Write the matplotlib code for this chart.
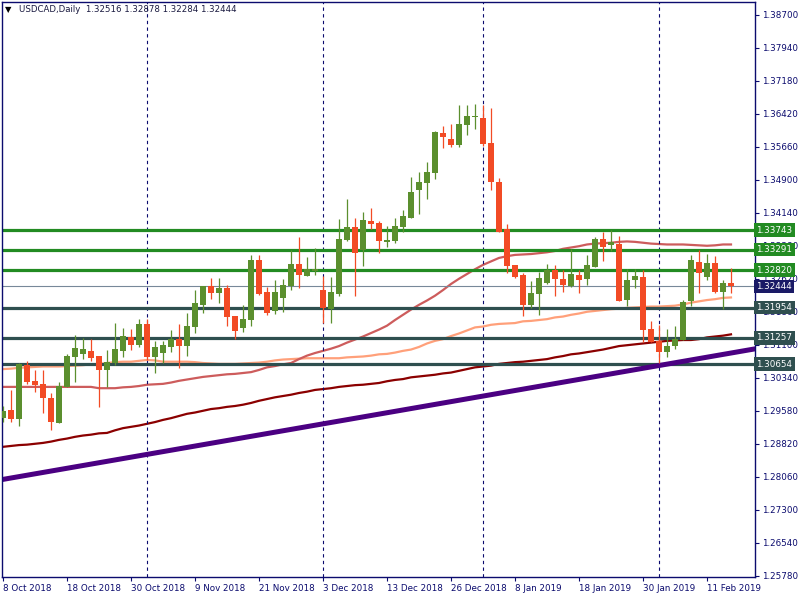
import numpy as np
import pandas as pd
import matplotlib
matplotlib.use('Agg')
import matplotlib.pyplot as plt
from matplotlib.transforms import blended_transform_factory

# trading days on the chart (no bars on 25 Dec and 1 Jan)
dates = pd.bdate_range('2018-10-08', '2019-02-14')
dates = dates[~dates.isin(pd.to_datetime(['2018-12-25', '2019-01-01']))]

opens = [1.2941, 1.2960, 1.2939, 1.3064, 1.3026, 1.3020, 1.2987, 1.2929, 1.3013, 1.3082,
         1.3089, 1.3096, 1.3084, 1.3052, 1.3068, 1.3096, 1.3128, 1.3109, 1.3158, 1.3082,
         1.3091, 1.3105, 1.3123, 1.3107, 1.3151, 1.3201, 1.3245, 1.3229, 1.3240, 1.3176,
         1.3149, 1.3167, 1.3305, 1.3231, 1.3187, 1.3217, 1.3245, 1.3296, 1.3268, 1.3280,
         1.3236, 1.3193, 1.3226, 1.3351, 1.3381, 1.3328, 1.3395, 1.3390, 1.3346, 1.3349,
         1.3381, 1.3402, 1.3466, 1.3483, 1.3506, 1.3598, 1.3584, 1.3570, 1.3616, 1.3634,
         1.3632, 1.3574, 1.3485, 1.3377, 1.3294, 1.3270, 1.3201, 1.3227, 1.3252, 1.3282,
         1.3261, 1.3245, 1.3270, 1.3261, 1.3289, 1.3354, 1.3340, 1.3342, 1.3213, 1.3259,
         1.3266, 1.3146, 1.3119, 1.3093, 1.3107, 1.3121, 1.3211, 1.3300, 1.3266, 1.3298,
         1.3231, 1.32516]
highs = [1.2969, 1.3006, 1.3068, 1.3073, 1.3052, 1.3052, 1.2999, 1.3024, 1.3089, 1.3132,
         1.3126, 1.3123, 1.3084, 1.3098, 1.3160, 1.3149, 1.3146, 1.3169, 1.3169, 1.3119,
         1.3119, 1.3144, 1.3158, 1.3183, 1.3236, 1.3245, 1.3263, 1.3263, 1.3247, 1.3176,
         1.3201, 1.3316, 1.3316, 1.3243, 1.3259, 1.3261, 1.3328, 1.3358, 1.3312, 1.3333,
         1.3268, 1.3266, 1.3400, 1.3446, 1.3402, 1.3415, 1.3424, 1.3395, 1.3384, 1.3402,
         1.3420, 1.3496, 1.3508, 1.3531, 1.3602, 1.3614, 1.3618, 1.3662, 1.3662, 1.3664,
         1.3662, 1.3655, 1.3494, 1.3388, 1.3294, 1.3275, 1.3256, 1.3277, 1.3296, 1.3294,
         1.3282, 1.3330, 1.3282, 1.3316, 1.3358, 1.3370, 1.3374, 1.3360, 1.3284, 1.3284,
         1.3282, 1.3165, 1.3155, 1.3146, 1.3153, 1.3213, 1.3316, 1.3328, 1.3318, 1.3314,
         1.3259, 1.32878]
lows = [1.2932, 1.2932, 1.2923, 1.3020, 1.3001, 1.2953, 1.2914, 1.2929, 1.3013, 1.3024,
        1.3078, 1.3073, 1.2967, 1.3013, 1.3063, 1.3082, 1.3098, 1.3105, 1.3075, 1.3045,
        1.3068, 1.3093, 1.3057, 1.3084, 1.3137, 1.3183, 1.3215, 1.3206, 1.3153, 1.3123,
        1.3140, 1.3153, 1.3224, 1.3178, 1.3181, 1.3185, 1.3236, 1.3240, 1.3268, 1.3270,
        1.3160, 1.3160, 1.3222, 1.3349, 1.3222, 1.3291, 1.3377, 1.3321, 1.3335, 1.3344,
        1.3370, 1.3402, 1.3411, 1.3446, 1.3492, 1.3563, 1.3565, 1.3565, 1.3593, 1.3607,
        1.3567, 1.3466, 1.3370, 1.3275, 1.3264, 1.3176, 1.3194, 1.3178, 1.3250, 1.3222,
        1.3231, 1.3243, 1.3229, 1.3247, 1.3289, 1.3303, 1.3326, 1.3211, 1.3199, 1.3240,
        1.3116, 1.3116, 1.3068, 1.3082, 1.3100, 1.3121, 1.3199, 1.3229, 1.3259, 1.3229,
        1.3192, 1.32284]
closes = [1.2958, 1.2939, 1.3066, 1.3024, 1.3017, 1.2987, 1.2932, 1.3015, 1.3084, 1.3102,
          1.3100, 1.3080, 1.3052, 1.3070, 1.3100, 1.3130, 1.3109, 1.3158, 1.3082, 1.3105,
          1.3109, 1.3123, 1.3107, 1.3153, 1.3206, 1.3245, 1.3229, 1.3240, 1.3174, 1.3142,
          1.3169, 1.3305, 1.3227, 1.3183, 1.3231, 1.3247, 1.3296, 1.3270, 1.3284, 1.3284,
          1.3195, 1.3231, 1.3354, 1.3381, 1.3321, 1.3397, 1.3388, 1.3349, 1.3351, 1.3384,
          1.3406, 1.3462, 1.3485, 1.3508, 1.3600, 1.3588, 1.3570, 1.3618, 1.3637, 1.3635,
          1.3572, 1.3485, 1.3370, 1.3291, 1.3266, 1.3201, 1.3229, 1.3263, 1.3282, 1.3261,
          1.3247, 1.3273, 1.3259, 1.3294, 1.3354, 1.3335, 1.3347, 1.3211, 1.3259, 1.3268,
          1.3144, 1.3116, 1.3093, 1.3107, 1.3123, 1.3208, 1.3305, 1.3275, 1.3298, 1.3231,
          1.3252, 1.32444]

# moving averages
ma_fast = [1.3013] * 12 + [1.3010] * 3 + [
    1.3012, 1.3013, 1.3015, 1.3018, 1.3019, 1.3020, 1.3023, 1.3027, 1.3030, 1.3033,
    1.3036, 1.3038, 1.3040, 1.3042, 1.3043, 1.3045, 1.3047, 1.3052, 1.3058, 1.3061,
    1.3065, 1.3068, 1.3077, 1.3085, 1.3091, 1.3096, 1.3101, 1.3107, 1.3115, 1.3122,
    1.3129, 1.3137, 1.3145, 1.3154, 1.3167, 1.3179, 1.3191, 1.3202, 1.3212, 1.3223,
    1.3236, 1.3250, 1.3262, 1.3273, 1.3284, 1.3294, 1.3302, 1.3310, 1.3314, 1.3317,
    1.3318, 1.3319, 1.3321, 1.3323, 1.3326, 1.3331, 1.3334, 1.3337, 1.3341, 1.3343,
    1.3344, 1.3345, 1.3347, 1.3348, 1.3347, 1.3345, 1.3343, 1.3342, 1.3341, 1.3341,
    1.3341, 1.3340, 1.3339, 1.3338, 1.3339, 1.3341, 1.3341]
ma_mid = [1.3054, 1.3055, 1.3057, 1.3058, 1.3059, 1.3060, 1.3060, 1.3060, 1.3061, 1.3062,
          1.3063, 1.3065, 1.3066, 1.3068, 1.3070, 1.3071, 1.3071, 1.3073, 1.3075, 1.3074,
          1.3071, 1.3071, 1.3071, 1.3071, 1.3070, 1.3068, 1.3067, 1.3066, 1.3066, 1.3066,
          1.3067, 1.3068, 1.3069, 1.3071, 1.3074, 1.3076, 1.3077, 1.3078, 1.3079, 1.3079,
          1.3079, 1.3079, 1.3079, 1.3081, 1.3082, 1.3083, 1.3085, 1.3088, 1.3089, 1.3092,
          1.3096, 1.3099, 1.3105, 1.3113, 1.3119, 1.3123, 1.3130, 1.3136, 1.3143, 1.3150,
          1.3152, 1.3156, 1.3158, 1.3159, 1.3160, 1.3164, 1.3165, 1.3167, 1.3169, 1.3173,
          1.3175, 1.3179, 1.3182, 1.3186, 1.3188, 1.3190, 1.3192, 1.3193, 1.3195, 1.3196,
          1.3197, 1.3198, 1.3198, 1.3199, 1.3200, 1.3203, 1.3207, 1.3210, 1.3213, 1.3215,
          1.3218, 1.3219]
ma_slow = [1.2875, 1.2877, 1.2879, 1.2880, 1.2882, 1.2884, 1.2887, 1.2891, 1.2894, 1.2898,
           1.2901, 1.2903, 1.2906, 1.2907, 1.2913, 1.2918, 1.2921, 1.2924, 1.2928, 1.2932,
           1.2937, 1.2941, 1.2946, 1.2951, 1.2954, 1.2958, 1.2962, 1.2964, 1.2967, 1.2969,
           1.2972, 1.2976, 1.2981, 1.2985, 1.2989, 1.2992, 1.2995, 1.2999, 1.3002, 1.3006,
           1.3008, 1.3010, 1.3013, 1.3015, 1.3017, 1.3018, 1.3020, 1.3022, 1.3026, 1.3029,
           1.3031, 1.3035, 1.3037, 1.3039, 1.3041, 1.3044, 1.3046, 1.3050, 1.3054, 1.3058,
           1.3060, 1.3062, 1.3066, 1.3068, 1.3070, 1.3071, 1.3073, 1.3075, 1.3077, 1.3081,
           1.3084, 1.3088, 1.3090, 1.3093, 1.3096, 1.3099, 1.3103, 1.3107, 1.3109, 1.3111,
           1.3113, 1.3115, 1.3117, 1.3119, 1.3120, 1.3121, 1.3121, 1.3123, 1.3127, 1.3129,
           1.3131, 1.3134]

# horizontal levels and trend line
resistance = [1.33743, 1.33291, 1.32820]
support = [1.31954, 1.31257, 1.30654]
last_price = 1.32444
trend_bars = [0, 91]
trend_prices = [1.2800, 1.3091]

date_labels = ['8 Oct 2018', '18 Oct 2018', '30 Oct 2018', '9 Nov 2018', '21 Nov 2018',
               '3 Dec 2018', '13 Dec 2018', '26 Dec 2018', '8 Jan 2019', '18 Jan 2019',
               '30 Jan 2019', '11 Feb 2019']
price_ticks = [1.25780 + 0.0076 * k for k in range(18)]

NAVY = '#0b0b6e'
BULL = '#5b8f2e'
BEAR = '#f24b25'

fig = plt.figure(figsize=(8, 6), dpi=100)
ax = fig.add_axes([2 / 800, 23 / 600, 753 / 800, 575 / 600])

x = np.arange(len(dates))
o = np.array(opens); h = np.array(highs); l = np.array(lows); c = np.array(closes)
up = c >= o
cols = np.where(up, BULL, BEAR)

# moving averages
ax.plot(x, ma_mid, color='#ffa07a', lw=1.6, zorder=1)
ax.plot(x, ma_fast, color='#cd5c5c', lw=1.6, zorder=1)
ax.plot(x, ma_slow, color='#8b0000', lw=1.6, zorder=1)

# levels
for lv in resistance:
    ax.axhline(lv, color='#228b22', lw=2.3, zorder=2)
for lv in support:
    ax.axhline(lv, color='#2f4f4f', lw=2.3, zorder=2)
ax.axhline(last_price, color='#778899', lw=0.8, zorder=2)
ax.axline((trend_bars[0], trend_prices[0]), (trend_bars[1], trend_prices[1]),
          color='#4b0082', lw=3.6, zorder=2)

# month separators
for i in range(1, len(dates)):
    if dates[i].month != dates[i - 1].month:
        ax.axvline(i, color=NAVY, lw=0.8, ls=(0, (3, 3)), zorder=1.5)

# candles
ax.vlines(x, l, h, colors=cols, lw=0.9, zorder=3)
body = np.maximum(np.abs(c - o), 0.00025)
ax.bar(x, body, bottom=np.minimum(o, c), width=0.64, color=cols, zorder=3.5)

ax.set_xlim(-0.125, 94)
ax.set_ylim(1.25752, 1.38994)

ax.yaxis.tick_right()
ax.set_yticks(price_ticks)
ax.set_yticklabels([f'{v:.5f}' for v in price_ticks])
tick_pos = [dates.get_loc(pd.to_datetime(s, format='%d %b %Y')) for s in date_labels]
ax.set_xticks(tick_pos)
ax.set_xticklabels(date_labels)
for lab in ax.get_xticklabels():
    lab.set_horizontalalignment('left')
ax.tick_params(axis='both', length=3, width=0.8, color=NAVY, labelcolor=NAVY,
               labelsize=6.3, pad=2)
for sp in ax.spines.values():
    sp.set_color(NAVY)
    sp.set_linewidth(1)

# price boxes on the right axis
tr = blended_transform_factory(ax.transAxes, ax.transData)
boxes = [(lv, '#228b22') for lv in resistance] + [(lv, '#2f4f4f') for lv in support]
boxes.append((last_price, '#1a1a66'))
for lv, fc in boxes:
    ax.text(1.002, lv, f'{lv:.5f}', transform=tr, ha='left', va='center', color='white',
            fontsize=6.3, zorder=10, clip_on=False,
            bbox=dict(boxstyle='square,pad=0.25', fc=fc, ec='none'))

ax.text(0.004, 0.987, '\u25bc', transform=ax.transAxes, fontsize=6, color='black',
        va='center', ha='left')
ax.text(0.023, 0.987, 'USDCAD,Daily  1.32516 1.32878 1.32284 1.32444',
        transform=ax.transAxes, fontsize=6.2, color='#1a1a40', va='center', ha='left')

fig.savefig('out.png', dpi=100)
